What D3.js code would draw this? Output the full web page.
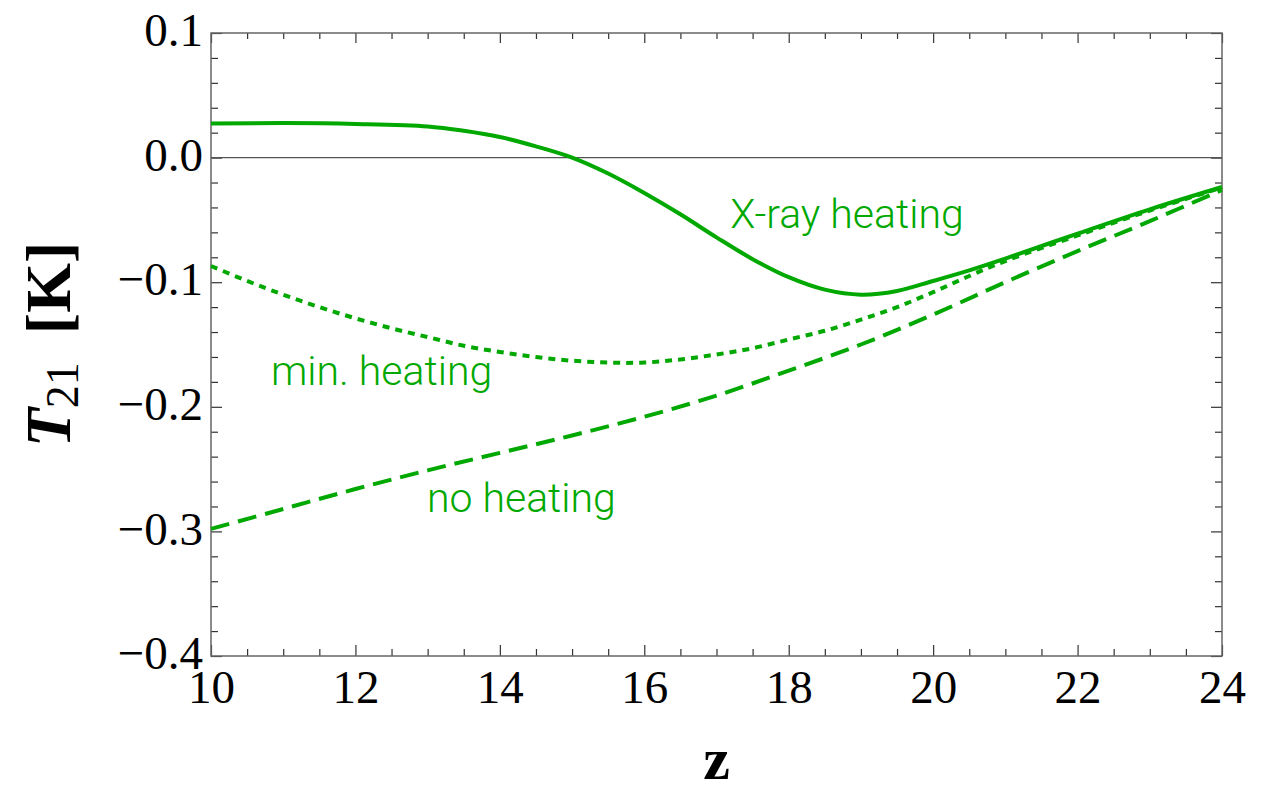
<!DOCTYPE html>
<html>
<head>
<meta charset="utf-8">
<script src="https://cdn.jsdelivr.net/npm/d3@7"></script>
<style>
  body { margin: 0; background: #fff; }
  svg { display: block; }
</style>
</head>
<body>
<script>
// redshift samples
var zXray = [10, 11, 12, 13, 13.5, 14, 14.5, 15, 15.5, 16, 16.5, 17, 17.5, 18, 18.5, 19, 19.5, 20, 20.5, 21, 22, 23, 24];
var tXray = [0.0274, 0.0277, 0.0270, 0.0250, 0.0215, 0.0165, 0.0090, 0.0, -0.0128, -0.0284, -0.0455, -0.0640, -0.0815, -0.0960, -0.1060, -0.1100, -0.1070, -0.0990, -0.0905, -0.0810, -0.0610, -0.0415, -0.0236];

var zMin = [10, 10.5, 11, 11.5, 12, 12.5, 13, 13.5, 14, 14.5, 15, 15.5, 16, 16.5, 17, 17.5, 18, 18.5, 19, 19.5, 20, 20.5, 21, 22, 23, 24];
var tMin = [-0.087, -0.099, -0.110, -0.120, -0.129, -0.137, -0.144, -0.151, -0.156, -0.160, -0.163, -0.1645, -0.1645, -0.162, -0.158, -0.153, -0.146, -0.139, -0.130, -0.120, -0.108, -0.095, -0.083, -0.0625, -0.0425, -0.0240];

var zNo = [10, 11, 12, 13, 14, 15, 16, 17, 18, 19, 20, 21, 22, 23, 24];
var tNo = [-0.298, -0.282, -0.266, -0.251, -0.237, -0.223, -0.208, -0.191, -0.171, -0.150, -0.126, -0.100, -0.075, -0.051, -0.026];

var xTicks = [10, 12, 14, 16, 18, 20, 22, 24];
var yTicks = [-0.4, -0.3, -0.2, -0.1, 0.0, 0.1];

var labels = [
  {text: "X-ray heating", z: 17.19, t: -0.0565},
  {text: "min. heating", z: 10.83, t: -0.1825},
  {text: "no heating", z: 12.99, t: -0.2844}
];

var green = "#00a800";

var width = 1283, height = 788;
var margin = {top: 33, right: 61, bottom: 132, left: 211};
var x = d3.scaleLinear().domain([10, 24]).range([margin.left, width - margin.right]);
var y = d3.scaleLinear().domain([-0.4, 0.1]).range([height - margin.bottom, margin.top]);

var svg = d3.select("body").append("svg")
  .attr("width", width)
  .attr("height", height);

// minor ticks
var xMinor = d3.range(10, 24.001, 0.5).filter(function(d){ return d % 2 != 0; });
var yMinor = d3.range(-0.4, 0.1001, 0.02).filter(function(d){ return Math.abs(d * 10 - Math.round(d * 10)) > 1e-6; });

function axisGroup(axis, tx, ty) {
  return svg.append("g")
    .attr("transform", "translate(" + tx + "," + ty + ")")
    .call(axis)
    .call(function(g){ g.selectAll(".domain").remove(); });
}

var fontSerif = "'Liberation Serif', 'Times New Roman', serif";

// bottom
var gb = axisGroup(d3.axisBottom(x).tickValues(xTicks).tickSize(-11).tickFormat(d3.format("d")), 0, y(-0.4));
gb.selectAll("text").attr("y", 47).attr("dy", null)
  .style("font-family", fontSerif).style("font-size", "47px").attr("fill", "#000");
axisGroup(d3.axisBottom(x).tickValues(xMinor).tickSize(-7).tickFormat(""), 0, y(-0.4));
// top
axisGroup(d3.axisTop(x).tickValues(xTicks).tickSize(-10).tickFormat(""), 0, y(0.1));
axisGroup(d3.axisTop(x).tickValues(xMinor).tickSize(-6).tickFormat(""), 0, y(0.1));
// left
var gl = axisGroup(d3.axisLeft(y).tickValues(yTicks).tickSize(-11).tickFormat(d3.format(".1f")), x(10), 0);
gl.selectAll("text").attr("x", -8).attr("dy", "0.27em")
  .style("font-family", fontSerif).style("font-size", "47px").attr("fill", "#000");
axisGroup(d3.axisLeft(y).tickValues(yMinor).tickSize(-7).tickFormat(""), x(10), 0);
// right
axisGroup(d3.axisRight(y).tickValues(yTicks).tickSize(-11).tickFormat(""), x(24), 0);
axisGroup(d3.axisRight(y).tickValues(yMinor).tickSize(-7).tickFormat(""), x(24), 0);

svg.selectAll(".tick line").attr("stroke", "#333").attr("stroke-width", 1.2);

// frame
svg.append("rect")
  .attr("x", x(10)).attr("y", y(0.1))
  .attr("width", x(24) - x(10)).attr("height", y(-0.4) - y(0.1))
  .attr("fill", "none").attr("stroke", "#666").attr("stroke-width", 1.5);

// zero line
svg.append("line")
  .attr("x1", x(10)).attr("x2", x(24))
  .attr("y1", y(0)).attr("y2", y(0))
  .attr("stroke", "#555").attr("stroke-width", 1.2);

var line = d3.line()
  .x(function(d){ return x(d[0]); })
  .y(function(d){ return y(d[1]); })
  .curve(d3.curveCatmullRom.alpha(0.5));

function drawSeries(zs, ts, dash) {
  svg.append("path")
    .datum(d3.zip(zs, ts))
    .attr("d", line)
    .attr("fill", "none")
    .attr("stroke", green)
    .attr("stroke-width", 4)
    .attr("stroke-dasharray", dash);
}
drawSeries(zNo, tNo, "19,9");
drawSeries(zMin, tMin, "7,6");
drawSeries(zXray, tXray, null);

// curve labels
svg.selectAll(".lbl")
  .data(labels)
  .enter().append("text")
  .attr("class", "lbl")
  .attr("x", function(d){ return x(d.z); })
  .attr("y", function(d){ return y(d.t); })
  .style("font-family", "Roboto, 'Liberation Sans', sans-serif")
  .style("font-weight", 300)
  .style("font-size", "41px")
  .attr("fill", green)
  .text(function(d){ return d.text; });

// x title
svg.append("text")
  .attr("x", (x(10) + x(24)) / 2)
  .attr("y", 779)
  .attr("text-anchor", "middle")
  .style("font-family", fontSerif)
  .style("font-weight", "bold")
  .style("font-size", "60px")
  .text("z");

// y title
var yt = svg.append("text")
  .attr("transform", "translate(70," + ((y(0.1) + y(-0.4)) / 2) + ") rotate(-90)")
  .attr("text-anchor", "middle")
  .style("font-family", fontSerif)
  .style("font-size", "64px");
yt.append("tspan").style("font-weight", "bold").style("font-style", "italic").text("T");
yt.append("tspan").attr("dy", 8).style("font-size", "46px").text("21");
yt.append("tspan").attr("dy", -8).attr("dx", 28).style("font-weight", "bold").text("[K]");
</script>
</body>
</html>
